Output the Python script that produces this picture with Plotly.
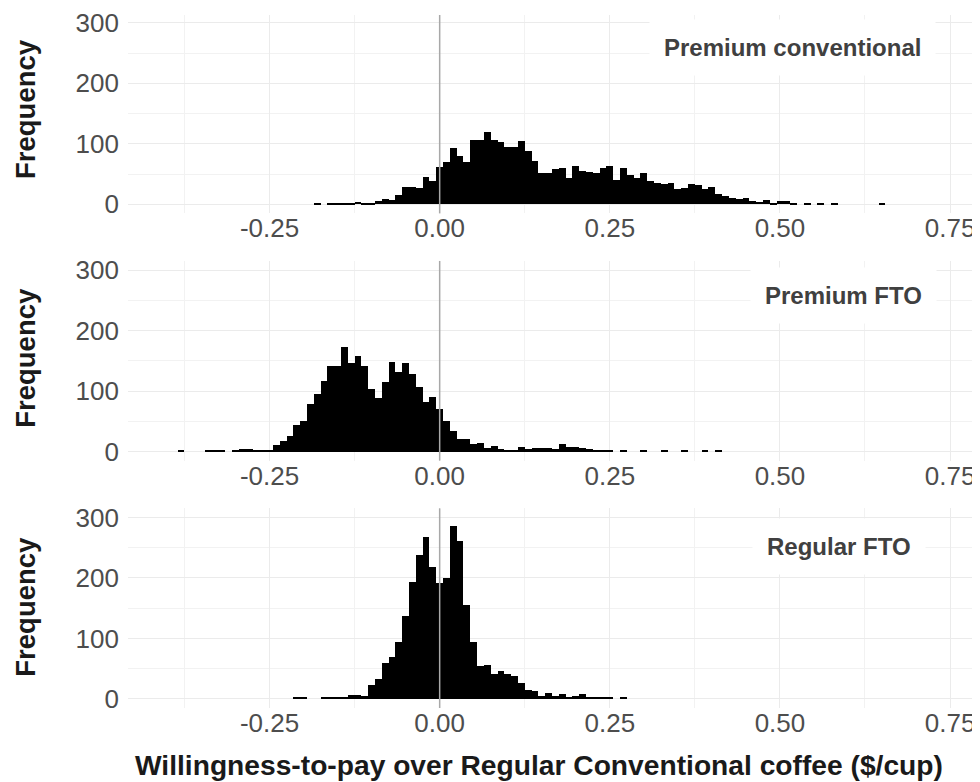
import plotly.graph_objects as go

# ---- data (histogram counts, bin width 0.01, bins centred on multiples of 0.01) ----
bin_width = 0.01

pc_first_bin = -0.18
pc_counts = [1, 0, 1, 1, 1, 1, 4, 2, 2, 6, 9, 8, 15, 29, 29, 27, 45, 38,
             62, 70, 93, 80, 70, 107, 107, 119, 106, 103, 94, 94, 105, 89, 71,
             51, 51, 59, 60, 44, 63, 55, 53, 51, 60, 63, 41, 60, 48, 43, 51,
             38, 36, 34, 35, 26, 27, 34, 32, 25, 29, 17, 14, 11, 9, 10, 5, 4,
             8, 3, 6, 6, 1, 0, 2, 0, 3, 0, 1, 0, 0, 0, 0, 0, 0, 1]

pf_first_bin = -0.38
pf_counts = [1, 0, 0, 0, 1, 2, 1, 0, 1, 4, 4, 2, 2, 2, 11, 17, 25, 44, 50,
             79, 95, 116, 142, 142, 173, 147, 158, 141, 103, 89, 115, 148, 131,
             146, 129, 106, 82, 91, 70, 51, 34, 21, 20, 12, 14, 6, 10, 5, 2, 3,
             8, 4, 6, 6, 6, 5, 13, 7, 8, 6, 4, 3, 2, 1, 0, 1, 0, 0, 1, 0, 0, 1,
             0, 0, 1, 0, 0, 1, 0, 1]

rf_first_bin = -0.21
rf_counts = [1, 1, 0, 0, 1, 1, 1, 2, 6, 6, 5, 22, 32, 59, 68, 94, 136, 192,
             237, 267, 218, 191, 200, 285, 261, 155, 93, 54, 56, 41, 46, 41, 37,
             26, 14, 12, 5, 9, 5, 8, 3, 5, 7, 2, 1, 3, 1, 0, 1]

panel_names = ["Premium conventional", "Premium FTO", "Regular FTO"]
label_x = [0.518, 0.593, 0.587]
label_y = [252, 252, 245]

x_ticks = [-0.25, 0.0, 0.25, 0.50, 0.75]
x_tick_text = ["-0.25", "0.00", "0.25", "0.50", "0.75"]
y_ticks = [0, 100, 200, 300]
x_title = "Willingness-to-pay over Regular Conventional coffee ($/cup)"
y_title = "Frequency"


def centres(first, counts):
    return [round(first + i * bin_width, 4) for i in range(len(counts))]


series = [(pc_first_bin, pc_counts), (pf_first_bin, pf_counts), (rf_first_bin, rf_counts)]

FONT = "Liberation Sans, Arial, sans-serif"
GRID = "#EBEBEB"
domains = [[0.7137, 1.0], [0.3570, 0.6451], [0.0, 0.2881]]
y_ranges = [[-15, 313.1], [-15, 315], [-15, 315]]
ytitle_y = [0.8572, 0.50105, 0.14405]
ytitle_shift = [5, 3, 1.5]

fig = go.Figure()
for i, (first, counts) in enumerate(series):
    sfx = "" if i == 0 else str(i + 1)
    fig.add_trace(go.Bar(
        x=centres(first, counts), y=counts, width=bin_width,
        marker=dict(color="black", line=dict(width=0)),
        xaxis="x" + sfx, yaxis="y" + sfx, showlegend=False,
    ))
    axis_common = dict(showline=False, zeroline=False, ticks="",
                       tickfont=dict(family=FONT, size=26, color="#4D4D4D"),
                       gridcolor=GRID, gridwidth=1.1, ticklabeloverflow="allow")
    fig.layout["xaxis" + sfx] = dict(
        axis_common, domain=[0, 1], range=[-0.458, 0.794], anchor="y" + sfx,
        tickvals=x_ticks, ticktext=x_tick_text, ticklabelstandoff=-3,
        minor=dict(showgrid=True, gridcolor="#F2F2F2", gridwidth=0.6,
                   tickvals=[-0.375, -0.125, 0.125, 0.375, 0.625]),
    )
    fig.layout["yaxis" + sfx] = dict(
        axis_common, domain=domains[i], range=y_ranges[i], anchor="x" + sfx,
        tickvals=y_ticks, ticklabelstandoff=8,
        minor=dict(showgrid=True, gridcolor="#F2F2F2", gridwidth=0.6,
                   tickvals=[50, 150, 250]),
    )
    fig.add_shape(type="line", xref="x" + sfx, yref="y" + sfx + " domain",
                  x0=0, x1=0, y0=0, y1=1, layer="above",
                  line=dict(color="#A8A8A8", width=1.5))
    fig.add_annotation(xref="x" + sfx, yref="y" + sfx, x=label_x[i], y=label_y[i],
                       yshift=4,
                       text="<b>" + panel_names[i] + "</b>", showarrow=False,
                       bgcolor="white", borderpad=14,
                       font=dict(family=FONT, size=24, color="#404040"))
    fig.add_annotation(xref="paper", yref="paper", x=-0.1244, xshift=4,
                       y=ytitle_y[i], yshift=ytitle_shift[i],
                       text="<b>" + y_title + "</b>", textangle=-90, showarrow=False,
                       xanchor="center", yanchor="middle",
                       font=dict(family=FONT, size=27.5, color="#1A1A1A"))

fig.add_annotation(xref="paper", yref="paper", x=0.4824, y=-0.0818,
                   text="<b>" + x_title + "</b>", showarrow=False,
                   xanchor="center", yanchor="middle",
                   font=dict(family=FONT, size=28.2, color="#1A1A1A"))

fig.update_layout(
    width=972, height=774,
    margin=dict(l=120, r=0, t=0, b=73.8),
    paper_bgcolor="white", plot_bgcolor="white",
    bargap=0, showlegend=False,
)

fig.write_html("out.html")
